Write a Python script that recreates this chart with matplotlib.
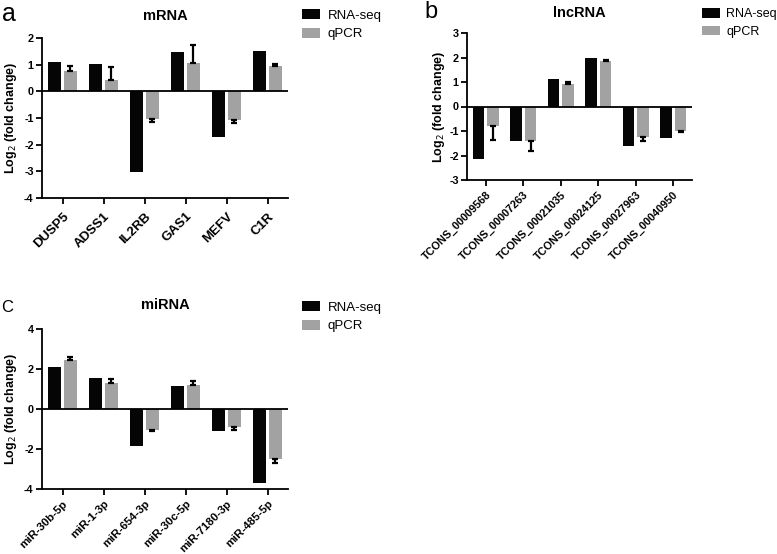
import matplotlib
matplotlib.use('Agg')
import matplotlib.pyplot as plt
import numpy as np

plt.rcParams['font.family'] = ['Liberation Sans', 'DejaVu Sans']

# ── Data ─────────────────────────────────────────────────────────────────────
mrna_genes = ['DUSP5', 'ADSS1', 'IL2RB', 'GAS1', 'MEFV', 'C1R']
mrna_seq   = [1.09, 1.03, -3.02, 1.47, -1.72, 1.53]
mrna_qpcr  = [0.75, 0.43, -1.04, 1.05, -1.07, 0.94]
mrna_err   = [0.19, 0.47, 0.11, 0.70, 0.12, 0.09]

lnc_genes = ['TCONS_00009568', 'TCONS_00007263', 'TCONS_00021035',
             'TCONS_00024125', 'TCONS_00027963', 'TCONS_00040950']
lnc_seq   = [-2.14, -1.40, 1.12, 2.00, -1.60, -1.30]
lnc_qpcr  = [-0.80, -1.42, 0.91, 1.84, -1.25, -1.00]
lnc_err   = [0.55, 0.40, 0.08, 0.06, 0.15, 0.04]

mir_genes = ['miR-30b-5p', 'miR-1-3p', 'miR-654-3p', 'miR-30c-5p',
             'miR-7180-3p', 'miR-485-5p']
mir_seq   = [2.12, 1.55, -1.83, 1.15, -1.10, -3.72]
mir_qpcr  = [2.47, 1.32, -1.03, 1.22, -0.88, -2.52]
mir_err   = [0.15, 0.17, 0.05, 0.16, 0.17, 0.18]

SEQ_COLOR  = '#050505'
QPCR_COLOR = '#a2a2a2'

W, H = 777, 554
fig = plt.figure(figsize=(W / 100, H / 100), dpi=100, facecolor='white')


def px_axes(left, top, right, bottom):
    return fig.add_axes([left / W, 1 - bottom / H, (right - left) / W, (bottom - top) / H])


def panel(ax, genes, seq, qpcr, err, ylim, yticks, title, xfs, xpad, title_y, ylab_x):
    x = np.arange(len(genes))
    bw = 0.31
    off = 0.195
    ax.bar(x - off, seq, bw, color=SEQ_COLOR, label='RNA-seq', zorder=2)
    ax.bar(x + off, qpcr, bw, color=QPCR_COLOR, label='qPCR', zorder=2)
    # one-sided error bars (away from zero)
    q = np.array(qpcr)
    e = np.array(err)
    lower = np.where(q < 0, e, 0)
    upper = np.where(q >= 0, e, 0)
    ax.errorbar(x + off, q, yerr=[lower, upper], fmt='none', ecolor='black',
                elinewidth=1.6, capsize=2.2, capthick=1.6, zorder=3)
    ax.axhline(0, color='black', linewidth=1.3, zorder=4)
    ax.set_xlim(-0.5, len(genes) - 0.5)
    ax.set_ylim(*ylim)
    ax.set_yticks(yticks)
    ax.set_yticklabels([f'{v:d}' for v in yticks], fontsize=7.8, fontweight='bold')
    ax.set_xticks(x)
    ax.set_xticklabels(genes, rotation=45, ha='right', rotation_mode='anchor',
                       fontsize=xfs, fontweight='bold')
    ax.spines[['top', 'right']].set_visible(False)
    for s in ('left', 'bottom'):
        ax.spines[s].set_linewidth(1.3)
    ax.tick_params(direction='out', length=4, width=1.3, pad=2)
    ax.tick_params(axis='x', pad=xpad)
    ax.set_ylabel('Log$_2$ (fold change)', fontsize=9, fontweight='bold')
    ax.yaxis.set_label_coords(ylab_x, 0.5)
    ax.text(0.5, title_y, title, transform=ax.transAxes, ha='center', va='center',
            fontsize=10.5, fontweight='bold')


ax_a = px_axes(42, 38, 288, 198)
panel(ax_a, mrna_genes, mrna_seq, mrna_qpcr, mrna_err, (-4, 2),
      [-4, -3, -2, -1, 0, 1, 2], 'mRNA', 9.5, 5, 1.137, -0.094)

ax_b = px_axes(467, 33, 692, 180)
panel(ax_b, lnc_genes, lnc_seq, lnc_qpcr, lnc_err, (-3, 3),
      [-3, -2, -1, 0, 1, 2, 3], 'lncRNA', 7.8, 3, 1.139, -0.089)

ax_c = px_axes(42, 329, 288, 489)
panel(ax_c, mir_genes, mir_seq, mir_qpcr, mir_err, (-4, 4),
      [-4, -2, 0, 2, 4], 'miRNA', 8.2, 3, 1.15, -0.094)

# legends
for ax, lx, ly, fs in [(ax_a, 302, 9, 9.5), (ax_b, 702, 8, 9.0), (ax_c, 302, 301, 9.5)]:
    h, l = ax.get_legend_handles_labels()
    fig.legend(h, l, loc='upper left', bbox_to_anchor=(lx / W, 1 - ly / H),
               frameon=False, fontsize=fs, handlelength=1.4, handleheight=0.8,
               handletextpad=0.55, labelspacing=0.45, borderaxespad=0, borderpad=0)

# panel letters
fig.text(2 / W, 1 - 2 / H, 'a', fontsize=18, va='top', ha='left')
fig.text(424 / W, 1 - 1 / H, 'b', fontsize=17, va='top', ha='left')
fig.text(1 / W, 1 - 300 / H, 'C', fontsize=12, va='top', ha='left')

fig.savefig('out.png', dpi=100, facecolor='white')
